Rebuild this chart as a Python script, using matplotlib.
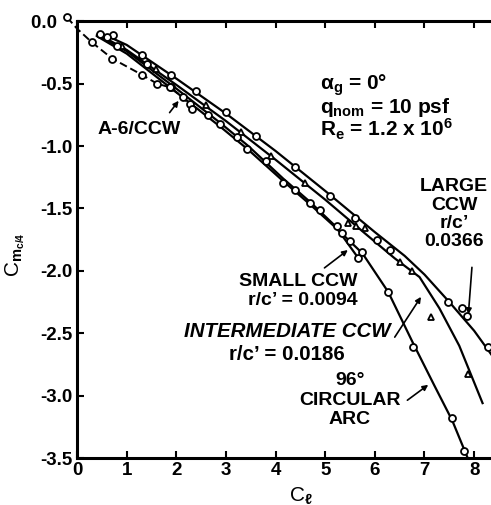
import matplotlib
matplotlib.use('Agg')
import matplotlib.pyplot as plt

plt.rcParams['font.family'] = 'Liberation Sans'
plt.rcParams['font.weight'] = 'bold'
plt.rcParams['axes.unicode_minus'] = False
plt.rcParams['mathtext.fontset'] = 'custom'
plt.rcParams['mathtext.rm'] = 'Liberation Sans:bold'
plt.rcParams['mathtext.bf'] = 'Liberation Sans:bold'
plt.rcParams['mathtext.it'] = 'Liberation Sans:bold:italic'
plt.rcParams['mathtext.default'] = 'rm'

# faired curves (CL, Cm c/4) and test points
large_cl = [0.45, 1.0, 2.0, 3.0, 4.0, 5.0, 6.0, 6.6, 7.0, 7.5, 8.0, 8.4]
large_cm = [-0.09, -0.19, -0.46, -0.74, -1.04, -1.36, -1.69, -1.88, -2.03, -2.25, -2.48, -2.70]
large_pts_cl = [0.46, 0.73, 1.3, 1.9, 2.4, 3.0, 3.6, 4.4, 5.1, 5.6, 6.05, 6.31, 7.48, 7.76, 7.86, 8.27]
large_pts_cm = [-0.10, -0.11, -0.27, -0.43, -0.56, -0.73, -0.92, -1.17, -1.40, -1.58, -1.75, -1.83, -2.25, -2.30, -2.36, -2.61]

inter_cl = [0.5, 1.0, 2.0, 3.0, 4.0, 5.0, 5.8, 6.4, 6.9, 7.3, 7.7, 8.17]
inter_cm = [-0.12, -0.23, -0.51, -0.80, -1.11, -1.43, -1.70, -1.90, -2.05, -2.30, -2.60, -3.06]
inter_pts_cl = [0.9, 1.6, 2.6, 3.3, 3.9, 4.6, 5.45, 5.62, 5.8, 6.5, 6.75, 7.14, 7.88]
inter_pts_cm = [-0.20, -0.38, -0.67, -0.89, -1.08, -1.30, -1.62, -1.64, -1.66, -1.93, -2.00, -2.37, -2.83]

small_cl = [0.4, 1.0, 2.0, 2.9, 3.45, 4.15, 4.7, 5.2, 5.67]
small_cm = [-0.11, -0.24, -0.54, -0.82, -1.00, -1.26, -1.45, -1.64, -1.90]
small_pts_cl = [0.6, 1.4, 2.28, 2.64, 3.23, 3.8, 4.4, 4.9, 5.24, 5.5, 5.67]
small_pts_cm = [-0.13, -0.34, -0.66, -0.75, -0.93, -1.12, -1.35, -1.51, -1.64, -1.76, -1.90]

arc_cl = [0.4, 1.0, 2.0, 2.9, 3.45, 4.15, 4.7, 5.2, 5.75, 6.27, 6.77, 7.2, 7.56, 7.86]
arc_cm = [-0.12, -0.26, -0.57, -0.85, -1.03, -1.28, -1.47, -1.65, -1.86, -2.17, -2.58, -2.92, -3.20, -3.49]
arc_pts_cl = [0.8, 1.9, 2.88, 3.43, 4.15, 4.7, 5.33, 5.75, 6.27, 6.77, 7.56, 7.80]
arc_pts_cm = [-0.20, -0.53, -0.82, -1.02, -1.30, -1.46, -1.70, -1.85, -2.17, -2.61, -3.18, -3.44]

a6_cl = [-0.2, 0.0, 0.30, 0.71, 1.31, 1.61, 1.87, 2.14, 2.32]
a6_cm = [0.03, -0.06, -0.17, -0.30, -0.43, -0.50, -0.53, -0.61, -0.70]
a6_pts_cl = [-0.2, 0.30, 0.71, 1.31, 1.61, 1.87, 2.14, 2.32]
a6_pts_cm = [0.03, -0.17, -0.30, -0.43, -0.50, -0.53, -0.61, -0.70]

fig = plt.figure(figsize=(4.91, 5.05), dpi=100)
ax = fig.add_axes([0.157, 0.093, 0.843, 0.865])

lw = 1.6
mk = dict(linestyle='none', markersize=5, markeredgewidth=1.3,
          markerfacecolor='white', markeredgecolor='black', zorder=4)

ax.plot(large_cl, large_cm, color='black', lw=lw)
ax.plot(inter_cl, inter_cm, color='black', lw=lw)
ax.plot(small_cl, small_cm, color='black', lw=lw)
ax.plot(arc_cl, arc_cm, color='black', lw=lw)
ax.plot(a6_cl, a6_cm, color='black', lw=1.4, linestyle=(0, (4, 2)), clip_on=False)

ax.plot(large_pts_cl, large_pts_cm, marker='o', **mk)
ax.plot(inter_pts_cl, inter_pts_cm, marker='^', **mk)
ax.plot(small_pts_cl, small_pts_cm, marker='o', **mk)
ax.plot(arc_pts_cl, arc_pts_cm, marker='o', **mk)
ax.plot(a6_pts_cl, a6_pts_cm, marker='o', clip_on=False, **mk)

ax.set_xlim(0, 8.34)
ax.set_ylim(-3.5, 0.0)
ax.set_xticks(range(0, 9))
ax.set_yticks([0.0, -0.5, -1.0, -1.5, -2.0, -2.5, -3.0, -3.5])
ax.set_yticklabels(['0.0   ', '-0.5', '-1.0', '-1.5', '-2.0', '-2.5', '-3.0', '-3.5'])
ax.tick_params(direction='in', length=5, width=1.5, top=True, labelsize=13.5, pad=3)
for s in ['left', 'bottom', 'top']:
    ax.spines[s].set_linewidth(2.2)
ax.spines['right'].set_visible(False)

ax.set_xlabel(r'C$_\ell$', fontsize=15)
ax.xaxis.set_label_coords(0.54, -0.062)
ax.set_ylabel(r'C$_{m_{c/4}}$', fontsize=15)
ax.yaxis.set_label_coords(-0.12, 0.465)

tfs = 14
pfs = 15
arr = dict(arrowstyle='-|>', color='black', lw=1.2, mutation_scale=8)

ax.text(1.25, -0.87, 'A-6/CCW', fontsize=tfs, ha='center', va='center')
ax.annotate('', xy=(2.08, -0.62), xytext=(1.83, -0.75), arrowprops=arr)

ax.text(4.9, -0.51, r'$\alpha_\mathbf{g}$ = 0°', fontsize=pfs, ha='left', va='center')
ax.text(4.9, -0.69, r'q$_\mathbf{nom}$ = 10 psf', fontsize=pfs, ha='left', va='center')
ax.text(4.9, -0.87, r'R$_\mathbf{e}$ = 1.2 x 10$^\mathbf{6}$', fontsize=pfs, ha='left', va='center')

ax.text(7.6, -1.26, 'LARGE\nCCW\nr/c’\n0.0366', fontsize=tfs, ha='center', va='top',
        multialignment='center', linespacing=1.1)
ax.annotate('', xy=(7.88, -2.37), xytext=(7.96, -1.95), arrowprops=arr)

ax.text(5.65, -2.02, 'SMALL CCW\nr/c’ = 0.0094', fontsize=tfs, ha='right', va='top',
        multialignment='right', linespacing=1.1)
ax.annotate('', xy=(5.50, -1.82), xytext=(4.94, -1.99), arrowprops=arr)

ax.text(4.23, -2.49, 'INTERMEDIATE CCW', fontsize=14.8, ha='center', va='center', style='italic')
ax.text(4.23, -2.67, 'r/c’ = 0.0186', fontsize=14.8, ha='center', va='center')
ax.annotate('', xy=(6.96, -2.19), xytext=(6.37, -2.55), arrowprops=arr)

ax.text(5.5, -2.81, '96°\nCIRCULAR\nARC', fontsize=tfs, ha='center', va='top',
        multialignment='center', linespacing=1.2)
ax.annotate('', xy=(7.12, -2.90), xytext=(6.61, -3.05), arrowprops=arr)

fig.savefig('out.png', dpi=100)
